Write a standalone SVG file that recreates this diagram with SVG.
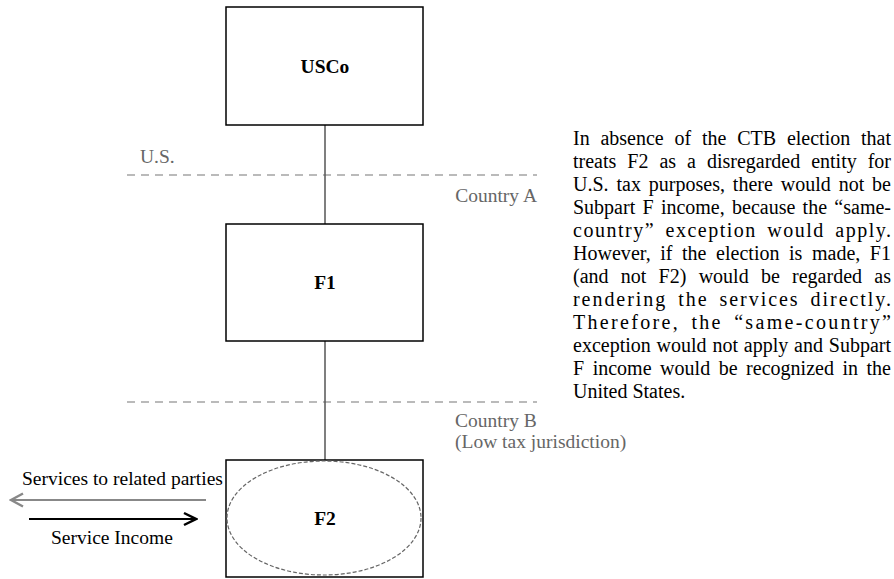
<svg xmlns="http://www.w3.org/2000/svg" width="894" height="579" viewBox="0 0 894 579">
  <style>
    .box { fill: #fff; stroke: #000; stroke-width: 1.5; }
    .link { stroke: #555; stroke-width: 1.5; fill: none; }
    .border { stroke: #777; stroke-width: 1.2; stroke-dasharray: 8 6; fill: none; }
    .entity { fill: none; stroke: #666; stroke-width: 1.2; stroke-dasharray: 4 2; }
  </style>
  <defs>
    <marker id="chevGray" viewBox="0 0 16 16" refX="14" refY="8" markerWidth="16" markerHeight="16" markerUnits="userSpaceOnUse" orient="auto">
      <path d="M2,1.5 L14,8 L2,14.5" fill="none" stroke="#888" stroke-width="2.5"/>
    </marker>
    <marker id="chevBlack" viewBox="0 0 16 16" refX="14" refY="8" markerWidth="16" markerHeight="16" markerUnits="userSpaceOnUse" orient="auto">
      <path d="M2,2 L14,8 L2,14" fill="none" stroke="#000" stroke-width="2.5"/>
    </marker>
  </defs>

  <rect width="894" height="579" fill="#fff"/>

  <!-- jurisdiction borders and their labels -->
  <g id="borders" font-family="Liberation Serif, serif" font-size="19.5" fill="#666">
    <line class="border" x1="127" y1="175" x2="537" y2="175"/>
    <line class="border" x1="127" y1="402" x2="537" y2="402"/>
    <text x="140" y="163">U.S.</text>
    <text x="537" y="202" text-anchor="end">Country A</text>
    <text x="455" y="427">Country B</text>
    <text x="455" y="448">(Low tax jurisdiction)</text>
  </g>

  <!-- ownership connectors -->
  <g id="connectors">
    <line class="link" x1="325" y1="125" x2="325" y2="224"/>
    <line class="link" x1="325" y1="341" x2="325" y2="460"/>
  </g>

  <g id="usco" font-family="Liberation Serif, serif" font-size="19.5" font-weight="bold" text-anchor="middle">
    <rect class="box" x="226" y="7" width="197" height="118"/>
    <text x="325" y="73">USCo</text>
  </g>

  <g id="f1" font-family="Liberation Serif, serif" font-size="19.5" font-weight="bold" text-anchor="middle">
    <rect class="box" x="226" y="224" width="197" height="117"/>
    <text x="325" y="289">F1</text>
  </g>

  <g id="f2" font-family="Liberation Serif, serif" font-size="19.5" font-weight="bold" text-anchor="middle">
    <rect class="box" x="226" y="460" width="197" height="117"/>
    <ellipse class="entity" cx="324" cy="518" rx="97" ry="57"/>
    <text x="325" y="525">F2</text>
  </g>

  <!-- service flows -->
  <g id="flows" font-family="Liberation Serif, serif" font-size="19.5">
    <line x1="206" y1="500" x2="11" y2="500" stroke="#888" stroke-width="2" marker-end="url(#chevGray)"/>
    <line x1="29" y1="519" x2="196" y2="519" stroke="#000" stroke-width="2" marker-end="url(#chevBlack)"/>
    <text x="22" y="485">Services to related parties</text>
    <text x="51" y="544">Service Income</text>
  </g>

  <!-- explanatory note, justified to a 318px column -->
  <g id="note" font-family="Liberation Serif, serif" font-size="20" fill="#000">
    <text x="573" y="145" word-spacing="5.8" textLength="318" lengthAdjust="spacing">In absence of the CTB election that</text>
    <text x="573" y="168" word-spacing="6" textLength="318" lengthAdjust="spacing">treats F2 as a disregarded entity for</text>
    <text x="573" y="191" word-spacing="2.9" textLength="318" lengthAdjust="spacing">U.S. tax purposes, there would not be</text>
    <text x="573" y="214" word-spacing="2.3" textLength="318" lengthAdjust="spacing">Subpart F income, because the “same-</text>
    <text x="573" y="237" word-spacing="4" textLength="318" lengthAdjust="spacing">country” exception would apply.</text>
    <text x="573" y="260" word-spacing="4.5" textLength="318" lengthAdjust="spacing">However, if the election is made, F1</text>
    <text x="573" y="283" word-spacing="7.2" textLength="318" lengthAdjust="spacing">(and not F2) would be regarded as</text>
    <text x="573" y="306" word-spacing="4" textLength="318" lengthAdjust="spacing">rendering the services directly.</text>
    <text x="573" y="329" word-spacing="4" textLength="318" lengthAdjust="spacing">Therefore, the “same-country”</text>
    <text x="573" y="352" word-spacing="0.8" textLength="318" lengthAdjust="spacing">exception would not apply and Subpart</text>
    <text x="573" y="375" word-spacing="3.5" textLength="318" lengthAdjust="spacing">F income would be recognized in the</text>
    <text x="573" y="398">United States.</text>
  </g>
</svg>
